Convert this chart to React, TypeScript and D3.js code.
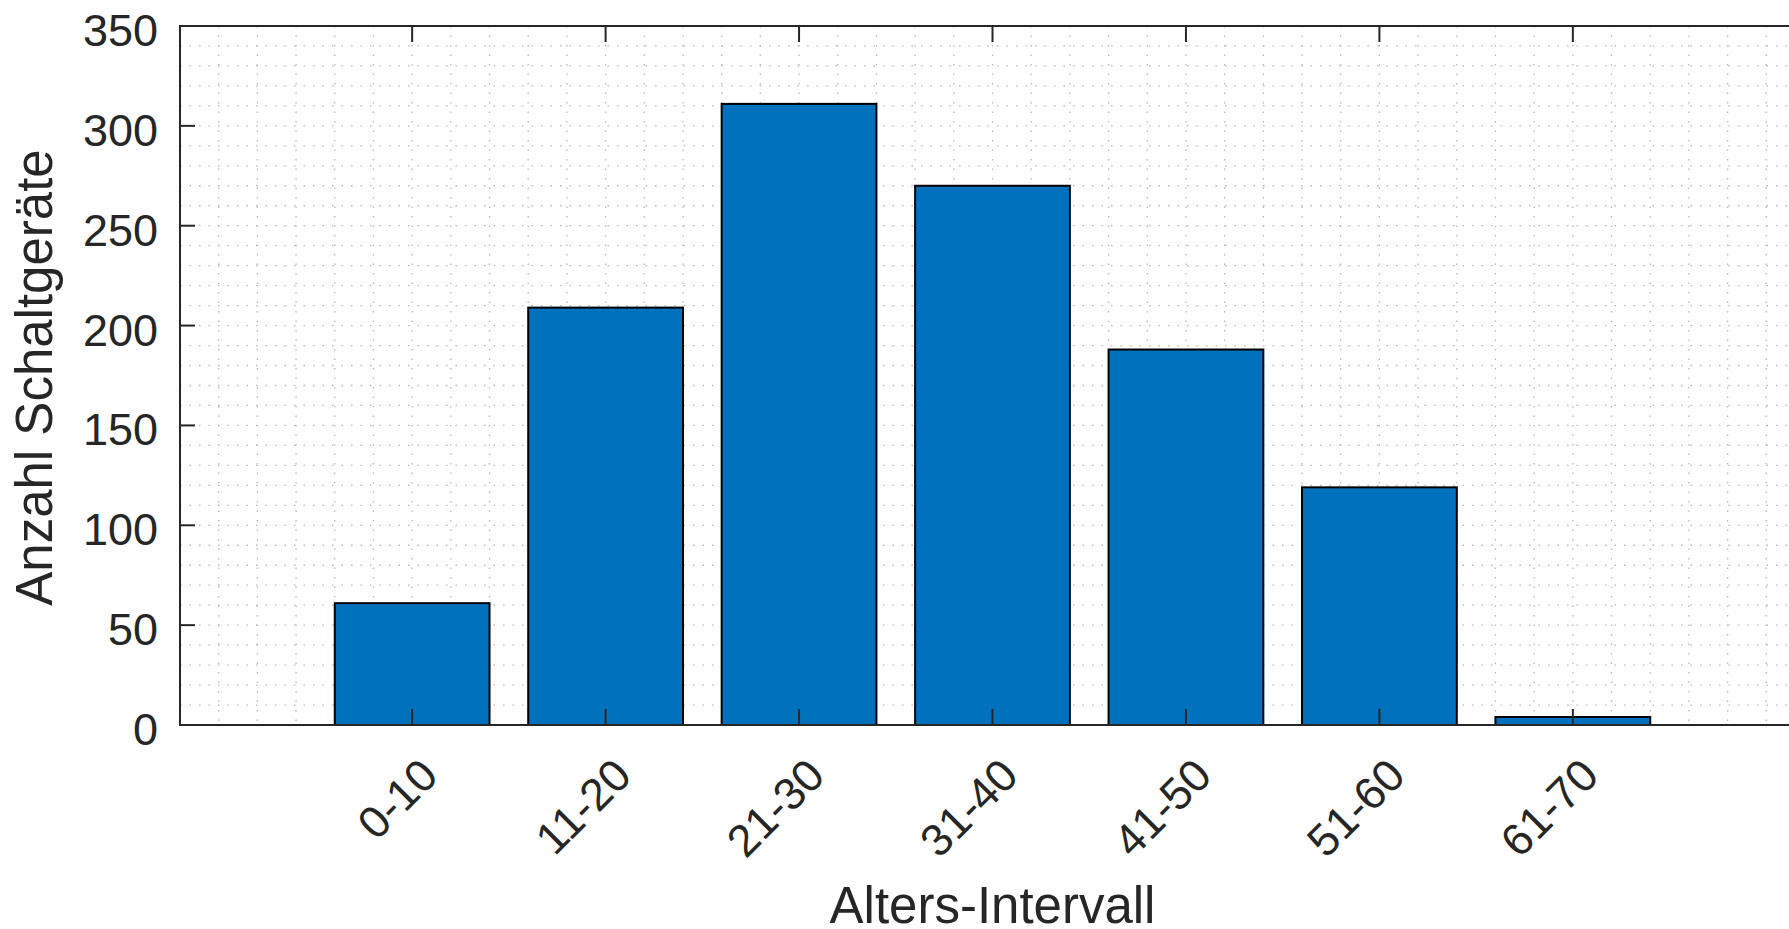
import React from 'react';
import * as d3 from 'd3';

const categories = ['0-10', '11-20', '21-30', '31-40', '41-50', '51-60', '61-70'];
const counts = [61, 209, 311, 270, 188, 119, 4];
const yTicks = [0, 50, 100, 150, 200, 250, 300, 350];

const W = 1789, H = 929;
const left = 180, top = 26, right = 1805, bottom = 725;
const axisColor = '#262626';
const font = '"Liberation Sans", Arial, Helvetica, sans-serif';

export default class App extends React.Component {
  ref = React.createRef<SVGSVGElement>();

  componentDidMount() { this.draw(); }
  componentDidUpdate() { this.draw(); }

  draw() {
    const svg = d3.select(this.ref.current);
    svg.selectAll('*').remove();

    // categorical positions 1..7, limits like matlab
    const x = d3.scaleLinear().domain([-0.2, categories.length + 1.2]).range([left, right]);
    const y = d3.scaleLinear().domain([0, 350]).range([bottom, top]);

    svg.append('rect').attr('width', W).attr('height', H).attr('fill', '#fff');

    // dotted minor grid
    const grid = svg.append('g').attr('stroke', '#b8b8b8').attr('stroke-width', 1.3)
      .attr('stroke-dasharray', '1.5,8');
    grid.selectAll('line.h').data(d3.range(10, 350, 10)).join('line')
      .attr('class', 'h')
      .attr('x1', left).attr('x2', right)
      .attr('y1', d => y(d)).attr('y2', d => y(d));
    grid.selectAll('line.v').data(d3.range(0, 41).map(i => i * 0.2)).join('line')
      .attr('class', 'v')
      .attr('x1', d => x(d)).attr('x2', d => x(d))
      .attr('y1', top).attr('y2', bottom);

    // bars
    svg.append('g').selectAll('rect').data(counts).join('rect')
      .attr('x', (d, i) => x(i + 1 - 0.4))
      .attr('width', x(0.8) - x(0))
      .attr('y', d => y(d))
      .attr('height', d => bottom - y(d))
      .attr('fill', '#0072BD')
      .attr('stroke', '#000')
      .attr('stroke-width', 2);

    // axes box
    const ax = svg.append('g').attr('stroke', axisColor).attr('stroke-width', 2).attr('fill', 'none');
    ax.append('line').attr('x1', left).attr('x2', left).attr('y1', top - 1).attr('y2', bottom + 1);
    ax.append('line').attr('x1', left).attr('x2', right).attr('y1', bottom).attr('y2', bottom);
    ax.append('line').attr('x1', left).attr('x2', right).attr('y1', top).attr('y2', top);

    // ticks pointing inward
    ax.selectAll('line.yt').data(yTicks).join('line')
      .attr('class', 'yt')
      .attr('x1', left).attr('x2', left + 15)
      .attr('y1', d => y(d)).attr('y2', d => y(d));
    ax.selectAll('line.xb').data(categories).join('line')
      .attr('class', 'xb')
      .attr('x1', (d, i) => x(i + 1)).attr('x2', (d, i) => x(i + 1))
      .attr('y1', bottom).attr('y2', bottom - 16);
    ax.selectAll('line.xt').data(categories).join('line')
      .attr('class', 'xt')
      .attr('x1', (d, i) => x(i + 1)).attr('x2', (d, i) => x(i + 1))
      .attr('y1', top).attr('y2', top + 16);

    const txt = svg.append('g').attr('fill', axisColor).style('font-family', font);

    txt.selectAll('text.yl').data(yTicks).join('text')
      .attr('class', 'yl')
      .attr('x', left - 22)
      .attr('y', d => y(d) + 20)
      .attr('text-anchor', 'end')
      .style('font-size', '45px')
      .text(d => d);

    txt.selectAll('text.xl').data(categories).join('text')
      .attr('class', 'xl')
      .attr('text-anchor', 'end')
      .attr('transform', (d, i) => 'translate(' + (x(i + 1) + 28) + ',' + (bottom + 53) + ')rotate(-45)')
      .style('font-size', '45px')
      .text(d => d);

    txt.append('text')
      .attr('text-anchor', 'middle')
      .attr('x', (left + right) / 2)
      .attr('y', 923)
      .style('font-size', '51px')
      .text('Alters-Intervall');

    txt.append('text')
      .attr('text-anchor', 'middle')
      .attr('transform', 'translate(52,' + ((top + bottom) / 2 + 2) + ')rotate(-90)')
      .style('font-size', '51px')
      .text('Anzahl Schaltgeräte');
  }

  render() {
    return (
      <svg ref={this.ref} width={W} height={H}
        style={{ position: 'absolute', left: 0, top: 0, display: 'block' }} />
    );
  }
}
